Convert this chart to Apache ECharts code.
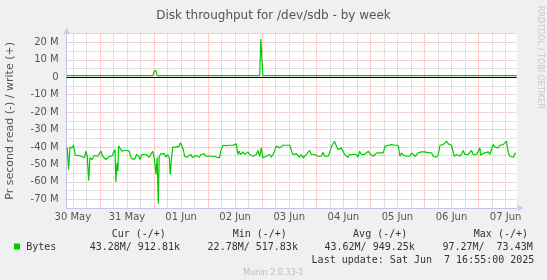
<!DOCTYPE html>
<html>
<head>
<meta charset="utf-8">
<script src="https://cdn.jsdelivr.net/npm/echarts@6/dist/echarts.min.js"></script>
<style>
html,body{margin:0;padding:0;background:#f0f0f0;}
#c{width:547px;height:280px;}
</style>
</head>
<body>
<div id="c"></div>
<script>
// ---- data (x = hours since 30 May 00:00, y = MB/s) ----
const dayLabels = ['30 May','31 May','01 Jun','02 Jun','03 Jun','04 Jun','05 Jun','06 Jun','07 Jun'];
const xRange = [9.27, 208.92];
const readPoints = [
[9.5,-40.1],[10.1,-53.0],[10.7,-40.1],[11.6,-40.5],[12.3,-39.0],[13.1,-44.7],[14.5,-44.9],[15.6,-45.3],[16.3,-45.9],[17.1,-46.2],
[17.8,-42.4],[18.4,-45.3],[19.0,-59.3],[19.6,-46.2],[20.5,-47.2],[21.5,-44.9],[22.2,-44.3],[23.0,-45.3],[23.7,-45.3],[24.5,-42.4],
[25.2,-45.3],[25.9,-46.2],[26.7,-47.2],[27.4,-46.2],[28.2,-45.3],[29.3,-45.3],[30.1,-45.3],[30.7,-41.5],[31.1,-60.0],[31.6,-49.1],
[32.0,-53.9],[32.3,-39.5],[32.9,-40.1],[33.8,-42.4],[34.8,-42.0],[35.8,-42.0],[36.4,-42.4],[37.0,-42.4],[37.8,-46.2],[38.8,-47.2],
[39.7,-46.2],[40.3,-44.3],[41.2,-45.3],[41.8,-47.2],[42.6,-44.3],[43.4,-43.4],[44.4,-44.3],[45.2,-45.3],[45.9,-45.9],[46.6,-45.3],
[47.4,-42.4],[48.1,-46.2],[48.9,-55.8],[49.4,-45.9],[49.9,-72.5],[50.3,-45.3],[51.1,-43.8],[51.8,-44.3],[52.6,-43.9],[53.3,-45.9],
[54.0,-44.3],[54.8,-46.2],[55.2,-55.8],[55.8,-46.2],[56.3,-40.1],[57.0,-39.5],[57.7,-40.1],[58.5,-40.5],[59.2,-39.5],[59.7,-37.6],
[60.4,-38.2],[61.0,-41.5],[61.6,-45.3],[62.5,-45.9],[63.3,-45.3],[64.4,-44.3],[65.1,-46.2],[65.9,-45.3],[66.6,-44.9],[67.3,-44.3],
[68.1,-45.9],[68.8,-44.3],[69.6,-45.3],[70.3,-43.9],[71.0,-45.3],[71.8,-44.3],[72.5,-45.3],[73.3,-44.3],[74.0,-45.3],[74.9,-45.3],
[76.1,-45.9],[77.0,-46.2],[77.8,-41.5],[78.6,-39.0],[79.3,-39.5],[80.1,-39.2],[80.8,-40.1],[81.5,-39.0],[82.3,-40.1],[83.0,-39.0],
[83.8,-38.6],[84.5,-38.2],[85.2,-44.3],[85.7,-42.4],[86.4,-44.3],[87.5,-42.8],[88.2,-44.3],[88.9,-43.9],[89.7,-42.8],[90.4,-44.3],
[91.2,-43.4],[91.9,-45.3],[92.6,-45.9],[93.4,-44.3],[94.1,-42.0],[94.9,-45.3],[95.6,-40.5],[96.3,-46.2],[97.1,-47.2],[97.8,-45.3],
[98.6,-45.9],[99.3,-44.3],[100.0,-45.9],[100.8,-44.3],[101.5,-42.4],[102.2,-39.5],[103.0,-38.6],[103.7,-40.5],[104.5,-41.5],[105.2,-39.0],
[105.9,-38.2],[106.7,-39.0],[107.4,-38.6],[108.2,-39.0],[108.9,-39.5],[109.6,-44.3],[110.4,-45.3],[111.1,-43.9],[111.9,-42.8],[112.6,-45.9],
[113.3,-44.3],[114.1,-46.2],[114.8,-45.3],[115.6,-44.3],[116.3,-45.3],[117.0,-42.0],[117.8,-44.3],[118.5,-45.3],[119.3,-44.3],[120.0,-43.4],
[120.7,-45.3],[121.5,-44.3],[122.2,-45.3],[123.0,-43.0],[123.7,-45.3],[124.4,-44.3],[125.2,-45.3],[125.9,-43.4],[126.6,-40.1],[127.4,-39.5],
[128.1,-36.7],[128.9,-39.5],[129.6,-41.5],[130.3,-42.0],[131.1,-40.5],[131.8,-41.5],[132.6,-44.3],[133.3,-45.3],[134.0,-45.9],[134.8,-44.3],
[135.5,-43.4],[136.3,-44.3],[137.0,-45.3],[137.7,-44.3],[138.5,-45.9],[139.2,-42.4],[140.0,-44.3],[140.7,-43.4],[141.4,-44.3],[142.2,-43.9],
[143.1,-42.4],[143.8,-43.9],[144.5,-44.3],[145.3,-45.3],[146.0,-45.9],[146.8,-43.4],[147.5,-43.9],[148.2,-43.4],[149.0,-43.9],[149.7,-43.4],
[150.5,-39.5],[151.2,-40.5],[151.9,-39.0],[152.7,-39.5],[153.4,-38.6],[154.1,-38.2],[154.9,-39.0],[155.6,-38.2],[156.4,-39.0],[157.1,-45.3],
[157.8,-43.4],[158.6,-44.7],[159.3,-44.3],[160.1,-45.3],[160.8,-44.3],[161.5,-45.3],[162.3,-43.4],[163.0,-44.3],[163.8,-45.3],[164.5,-44.3],
[165.2,-43.4],[166.0,-44.3],[166.7,-42.8],[167.5,-43.9],[168.2,-42.8],[168.9,-43.9],[169.7,-43.4],[170.4,-44.3],[171.2,-43.4],[171.9,-45.3],
[172.6,-44.3],[173.4,-45.9],[174.1,-44.3],[174.9,-39.0],[175.6,-39.5],[176.3,-38.6],[177.1,-39.0],[177.8,-36.7],[178.6,-38.2],[179.3,-37.6],
[180.0,-39.0],[180.8,-38.6],[181.2,-45.3],[182.3,-44.3],[183.0,-44.9],[183.7,-45.3],[184.5,-43.9],[185.2,-42.0],[185.9,-44.3],[186.7,-45.3],
[187.4,-44.3],[188.2,-44.9],[188.9,-42.0],[189.6,-44.3],[190.4,-45.3],[191.1,-44.3],[191.9,-44.9],[192.6,-40.5],[192.9,-44.7],[193.8,-43.9],
[194.8,-43.4],[195.6,-43.9],[196.3,-42.8],[197.0,-44.3],[197.8,-43.4],[198.5,-38.6],[199.3,-40.1],[200.0,-39.0],[200.7,-40.5],[201.5,-39.0],
[202.2,-39.5],[202.9,-38.6],[203.7,-38.2],[204.4,-36.7],[205.2,-43.4],[205.9,-45.3],[206.7,-44.3],[207.4,-45.9],[208.1,-43.9],[208.6,-43.4]
];
const writePoints = [
[9.3,0.9],[10.8,0.9],[11.3,1.8],[11.8,0.9],[30.6,0.9],[31.1,1.6],[31.6,0.9],[47.6,0.9],[48.0,3.5],[48.4,4.2],[48.9,3.8],[49.3,0.9],
[54.6,0.9],[55.1,1.5],[55.6,0.9],[65.4,0.9],[65.8,0.4],[66.3,0.9],[66.9,0.4],[67.4,0.9],[78.5,0.9],[79.0,1.6],[79.5,0.9],
[94.9,0.9],[95.4,22.0],[96.0,21.8],[96.3,0.9],[126.6,0.9],[127.1,1.6],[127.6,0.9],[174.7,0.9],[175.2,1.6],[175.7,0.9],[208.9,0.9]
];
const legendHeaders = ['Cur (-/+)','Min (-/+)','Avg (-/+)','Max (-/+)'];
const legendValues = ['43.28M/ 912.81k','22.78M/ 517.83k','43.62M/ 949.25k','97.27M/  73.43M'];
const lastUpdate = 'Last update: Sat Jun  7 16:55:00 2025';

// ---- tick positions ----
const gridHours = [];
for (let h = 12; h <= 204; h += 6) gridHours.push(h);
const labelHours = dayLabels.map((d, i) => 12 + 24 * i);

const GREEN = '#00cc00';
const GRAY = '#c6c6c6';
const RED = '#f2a0a0';
const FONT = 'DejaVu Sans';
const AXIS = '#c4c4ee';

const chart = echarts.init(document.getElementById('c'), null, {renderer: 'canvas'});
const headerX = [111.7, 232.7, 353.1, 473.8];
const valueX = [89.7, 207.6, 324.5, 442.4];
const graphics = [
  {type:'text', x:540, y:6, rotation:-Math.PI/2, style:{text:'RRDTOOL / TOBI OETIKER', fill:'#c8c8c8', font:'8px "DejaVu Sans"', align:'left', verticalAlign:'middle'}},
  {type:'rect', shape:{x:14, y:243.5, width:6, height:6}, style:{fill:GREEN}},
  {type:'text', x:26.2, y:247, style:{text:'Bytes', fill:'#333', font:'10px "DejaVu Sans Mono"', verticalAlign:'middle'}},
  {type:'text', x:311.6, y:260, style:{text:lastUpdate, fill:'#333', font:'10px "DejaVu Sans Mono"', verticalAlign:'middle'}},
  {type:'text', x:273.5, y:272.6, style:{text:'Munin 2.0.33-1', fill:'#bcbcbc', font:'8px "DejaVu Sans"', align:'center', verticalAlign:'middle'}}
];
legendHeaders.forEach((t, i) => graphics.push({type:'text', x:headerX[i], y:234.9, style:{text:t, fill:'#333', font:'10px "DejaVu Sans Mono"', verticalAlign:'middle'}}));
legendValues.forEach((t, i) => graphics.push({type:'text', x:valueX[i], y:247, style:{text:t, fill:'#333', font:'10px "DejaVu Sans Mono"', verticalAlign:'middle'}}));

chart.setOption({
  backgroundColor: '#f0f0f0',
  animation: false,
  title: {
    text: 'Disk throughput for /dev/sdb - by week',
    left: 'center', top: 5,
    textStyle: {fontFamily: FONT, fontSize: 12, fontWeight: 'normal', color: '#555'}
  },
  grid: {left: 66.7, right: 30.3, top: 33.7, bottom: 72, show: true, backgroundColor: '#ffffff', borderWidth: 0, containLabel: false, outerBoundsMode: 'none'},
  xAxis: {
    type: 'value', min: xRange[0], max: xRange[1],
    axisLine: {show: true, onZero: false, lineStyle: {color: AXIS, width: 1}, symbol: ['none', 'arrow'], symbolSize: [5, 7], symbolOffset: [0, 7]},
    axisTick: {show: false, customValues: gridHours},
    axisLabel: {customValues: labelHours, margin: 4, fontFamily: FONT, fontSize: 10, color: '#555',
      formatter: v => dayLabels[Math.round((v - 12) / 24)] || ''},
    splitLine: {show: true, lineStyle: {color: [GRAY, GRAY, RED, GRAY], width: 1, type: [1, 1]}}
  },
  yAxis: {
    type: 'value', min: -75, max: 25, interval: 5,
    name: 'Pr second read (-) / write (+)', nameLocation: 'middle', nameGap: 51,
    nameTextStyle: {fontFamily: FONT, fontSize: 11, color: '#555'},
    axisLine: {show: true, onZero: false, lineStyle: {color: AXIS, width: 1}, symbol: ['none', 'arrow'], symbolSize: [5, 7], symbolOffset: [0, 6]},
    axisTick: {show: false},
    axisLabel: {margin: 8, fontFamily: FONT, fontSize: 10, color: '#555',
      formatter: v => (v % 10 !== 0) ? '' : (v === 0 ? '0' : v + ' M')},
    splitLine: {show: true, lineStyle: {color: [GRAY, RED], width: 1, type: [1, 1]}}
  },
  series: [
    {name: 'Bytes', type: 'line', data: writePoints, showSymbol: false, symbol: 'none',
     lineStyle: {color: GREEN, width: 1.2}, itemStyle: {color: GREEN}, z: 3,
     markLine: {silent: true, symbol: 'none', label: {show: false}, lineStyle: {color: '#000', width: 1.2, type: 'solid'}, data: [{yAxis: 0}]}},
    {name: 'Bytes', type: 'line', data: readPoints, showSymbol: false, symbol: 'none',
     lineStyle: {color: GREEN, width: 1.2}, itemStyle: {color: GREEN}, z: 3}
  ],
  graphic: graphics
});
</script>
</body>
</html>
